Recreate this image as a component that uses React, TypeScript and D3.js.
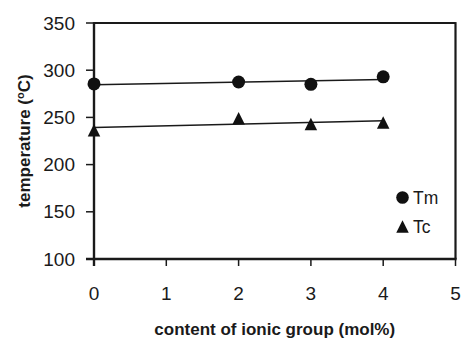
import React from "react";
import * as d3 from "d3";

const xValues = [0, 2, 3, 4];
const tmValues = [285.5, 287.5, 285, 293];
const tcValues = [236.5, 249, 243, 244.5];
const xTicks = [0, 1, 2, 3, 4, 5];
const yTicks = [100, 150, 200, 250, 300, 350];
const seriesNames = ["Tm", "Tc"];

function fit(xs: number[], ys: number[]) {
  const mx = d3.mean(xs)!;
  const my = d3.mean(ys)!;
  let sxy = 0, sxx = 0;
  xs.forEach((x, i) => { sxy += (x - mx) * (ys[i] - my); sxx += (x - mx) * (x - mx); });
  const b = sxy / sxx;
  const a = my - b * mx;
  return (x: number) => a + b * x;
}

const triPath = (w: number, h: number) => {
  const p = d3.path();
  p.moveTo(0, -h / 2);
  p.lineTo(w / 2, h / 2);
  p.lineTo(-w / 2, h / 2);
  p.closePath();
  return p.toString();
};

export default function App() {
  const W = 463, H = 338;
  const x = d3.scaleLinear().domain([0, 5]).range([94, 455.5]);
  const y = d3.scaleLinear().domain([100, 350]).range([259, 23]);
  const font = "Liberation Sans, Arial, sans-serif";
  const ink = "#1a1a1a";
  const tmFit = fit(xValues, tmValues);
  const tcFit = fit(xValues, tcValues);
  const tri = triPath(12.5, 12.5);
  return (
    <svg width={W} height={H} style={{ position: "absolute", left: 0, top: 0, background: "#fff" }} fontFamily={font}>
      {/* frame */}
      <line x1={x(0)} x2={x(5)} y1={y(350)} y2={y(350)} stroke={ink} strokeWidth={1.8} />
      <line x1={x(5)} x2={x(5)} y1={y(350) - 0.9} y2={y(100)} stroke={ink} strokeWidth={2.2} />
      {yTicks.map(t => (
        <g key={"y" + t}>
          <line x1={x(0) - 8} x2={x(0)} y1={y(t)} y2={y(t)} stroke={ink} strokeWidth={1.5} />
          <text x={75} y={y(t)} dy="0.35em" textAnchor="end" fontSize={19} fill={ink}>{t}</text>
        </g>
      ))}
      {xTicks.map(t => (
        <g key={"x" + t}>
          <line x1={x(t)} x2={x(t)} y1={y(100)} y2={y(100) + 7} stroke={ink} strokeWidth={1.5} />
          <text x={x(t)} y={300} textAnchor="middle" fontSize={19} fill={ink}>{t}</text>
        </g>
      ))}
      <line x1={x(0)} x2={x(0)} y1={y(350) - 0.9} y2={y(100) + 7} stroke={ink} strokeWidth={2.4} />
      <line x1={x(0) - 8} x2={x(5) + 1.1} y1={y(100)} y2={y(100)} stroke={ink} strokeWidth={2.4} />
      <text x={(x(0) + x(5)) / 2} y={334.5} textAnchor="middle" fontSize={17} fontWeight="bold" fill={ink}>content of ionic group (mol%)</text>
      <text transform={`translate(30,${(y(100) + y(350)) / 2}) rotate(-90)`} textAnchor="middle" fontSize={17} fontWeight="bold" fill={ink}>
        temperature (<tspan fontSize={11} dy={-6}>o</tspan><tspan dy={6}>C)</tspan>
      </text>
      {/* trend lines */}
      <line x1={x(0)} x2={x(4)} y1={y(tmFit(0))} y2={y(tmFit(4))} stroke={ink} strokeWidth={1.5} />
      <line x1={x(0)} x2={x(4)} y1={y(tcFit(0))} y2={y(tcFit(4))} stroke={ink} strokeWidth={1.5} />
      {xValues.map((v, i) => (
        <circle key={"tm" + i} cx={x(v)} cy={y(tmValues[i])} r={6.5} fill="#111" />
      ))}
      {xValues.map((v, i) => (
        <path key={"tc" + i} d={tri} transform={`translate(${x(v)},${y(tcValues[i])})`} fill="#111" />
      ))}
      {/* legend */}
      <circle cx={402.5} cy={197.5} r={6.3} fill="#111" />
      <text x={413} y={197.5} dy="0.36em" fontSize={17.5} fill={ink}>{seriesNames[0]}</text>
      <path d={tri} transform={`translate(402.5,226.5)`} fill="#111" />
      <text x={413} y={226.5} dy="0.36em" fontSize={17.5} fill={ink}>{seriesNames[1]}</text>
    </svg>
  );
}
